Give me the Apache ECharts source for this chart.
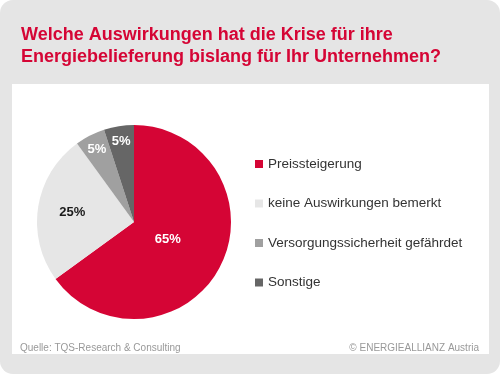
<!DOCTYPE html>
<html>
<head>
<meta charset="utf-8">
<script src="https://cdn.jsdelivr.net/npm/echarts@6/dist/echarts.min.js"></script>
<style>
html,body{margin:0;padding:0;background:#ffffff;}
#chart{width:500px;height:374px;}
</style>
</head>
<body>
<div id="chart"></div>
<script>
const titleText = 'Welche Auswirkungen hat die Krise für ihre\nEnergiebelieferung bislang für Ihr Unternehmen?';
const categories = ['Preissteigerung', 'keine Auswirkungen bemerkt', 'Versorgungssicherheit gefährdet', 'Sonstige'];
const values = [65, 25, 5, 5];
const colors = ['#d50535', '#e6e6e6', '#a0a0a0', '#666666'];
const labelColors = ['#ffffff', '#1a1a1a', '#ffffff', '#ffffff'];
const sourceText = 'Quelle: TQS-Research & Consulting';
const creditText = '© ENERGIEALLIANZ Austria';

const FONT = 'Liberation Sans, Arial, sans-serif';
const center = [134, 222];
const R = 97;
// label rings: which items, inner/outer radius (label drawn at mid radius)
const labelRings = [
  { items: [0], radius: [0, 70] },
  { items: [1], radius: [22, 97] },
  { items: [2, 3], radius: [60, 97] }
];

const baseData = categories.map((c, i) => ({
  name: c, value: values[i], itemStyle: { color: colors[i] }
}));

const labelSeries = labelRings.map(ring => ({
  type: 'pie',
  silent: true,
  center: center,
  radius: ring.radius,
  startAngle: 90,
  legendHoverLink: false,
  itemStyle: { color: 'rgba(0,0,0,0)' },
  emphasis: { disabled: true },
  labelLine: { show: false },
  data: categories.map((c, i) => ({
    name: c, value: values[i],
    itemStyle: { color: 'rgba(0,0,0,0)' },
    label: {
      show: ring.items.indexOf(i) >= 0,
      position: 'inside',
      formatter: '{c}%',
      color: labelColors[i],
      fontFamily: FONT,
      fontWeight: 'bold',
      fontSize: 13
    }
  }))
}));

const chart = echarts.init(document.getElementById('chart'), null, { renderer: 'canvas' });
chart.setOption({
  animation: false,
  backgroundColor: 'transparent',
  graphic: [
    { type: 'rect', z: -10, shape: { x: 0, y: 0, width: 500, height: 374, r: 13 }, style: { fill: '#e5e5e5' } },
    { type: 'rect', z: -9, shape: { x: 12, y: 84, width: 477, height: 270 }, style: { fill: '#ffffff' } },
    { type: 'text', left: 20, top: 343, style: { text: sourceText, font: '10px ' + FONT, fill: '#999999' } },
    { type: 'text', right: 21, top: 343, style: { text: creditText, font: '10px ' + FONT, fill: '#999999' } }
  ],
  title: {
    text: titleText,
    left: 16,
    top: 19,
    textStyle: { color: '#d50535', fontFamily: FONT, fontWeight: 'bold', fontSize: 18, lineHeight: 22 }
  },
  legend: {
    orient: 'vertical',
    left: 250,
    top: 152,
    itemWidth: 8,
    itemHeight: 8,
    itemGap: 25.5,
    icon: 'rect',
    data: categories,
    textStyle: { color: '#333333', fontFamily: FONT, fontSize: 13.5 },
    selectedMode: false
  },
  series: [
    {
      type: 'pie',
      center: center,
      radius: [0, R],
      startAngle: 90,
      label: { show: false },
      labelLine: { show: false },
      emphasis: { disabled: true },
      data: baseData
    }
  ].concat(labelSeries)
});
</script>
</body>
</html>
